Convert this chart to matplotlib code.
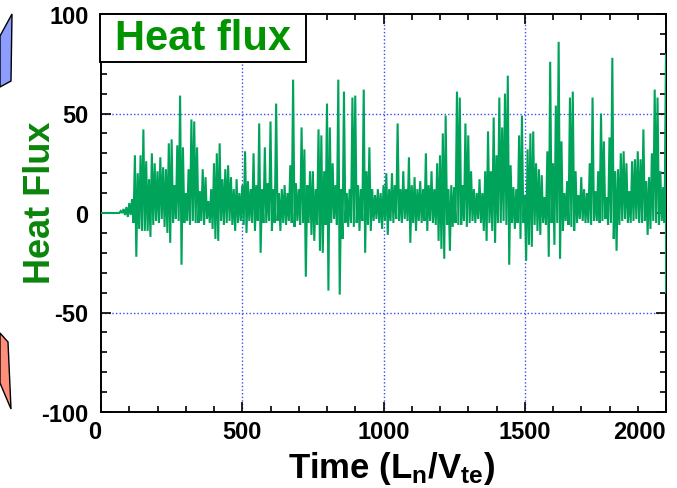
import matplotlib
matplotlib.use("Agg")
import matplotlib.pyplot as plt
from matplotlib.ticker import MultipleLocator
from matplotlib.patches import Rectangle, Polygon
import numpy as np

plt.rcParams['font.family'] = ['Liberation Sans', 'DejaVu Sans']
plt.rcParams['font.weight'] = 'bold'
plt.rcParams['mathtext.fontset'] = 'custom'
plt.rcParams['mathtext.rm'] = 'Liberation Sans:bold'
plt.rcParams['mathtext.it'] = 'Liberation Sans:bold'
plt.rcParams['mathtext.bf'] = 'Liberation Sans:bold'

# ---- data: time every 10 L_n/V_te ----
time = list(range(0, 2001, 10))
flux_high = [
    0, 0, 0, 0, 0, 0, 0, 1, 2, 3,
    5, 7, 29, 20, 29, 42, 26, 17, 30, 25,
    21, 28, 23, 22, 35, 37, 14, 34, 59, 33,
    10, 22, 47, 46, 33, 11, 22, 18, 6, 12,
    25, 30, 35, 17, 22, 24, 18, 12, 17, 10,
    14, 31, 16, 12, 30, 14, 45, 12, 33, 15,
    46, 12, 55, 10, 12, 14, 10, 24, 67, 15,
    12, 43, 32, 14, 21, 21, 12, 42, 39, 21,
    55, 43, 25, 14, 67, 12, 61, 10, 12, 58,
    59, 14, 12, 62, 21, 33, 12, 9, 12, 10,
    14, 20, 12, 20, 14, 45, 12, 21, 12, 28,
    14, 18, 12, 16, 12, 30, 14, 21, 12, 25,
    29, 40, 49, 12, 14, 13, 61, 58, 14, 45,
    39, 21, 12, 10, 17, 10, 21, 41, 21, 48,
    29, 58, 43, 60, 69, 24, 13, 12, 39, 49,
    9, 32, 40, 41, 25, 22, 19, 8, 31, 76,
    25, 54, 86, 36, 10, 16, 58, 61, 21, 9,
    18, 12, 10, 25, 58, 11, 21, 50, 36, 8,
    38, 78, 21, 22, 30, 31, 25, 11, 26, 27,
    31, 27, 42, 16, 18, 30, 62, 58, 21, 13,
    80]
flux_low = [
    0, 0, 0, 0, 0, 0, 0, 0, -1, -2,
    -1, -5, -22, -8, -9, -9, -9, -12, -6, -4,
    -5, -3, -7, -10, -15, -5, -3, -4, -26, -5,
    -4, -6, -4, -5, -5, -4, -6, -3, -5, -8,
    -13, -14, -4, -6, -5, -4, -6, -9, -5, -4,
    -6, -10, -4, -5, -9, -4, -20, -5, -5, -4,
    -9, -5, -4, -9, -5, -6, -4, -5, -7, -4,
    -6, -5, -32, -5, -11, -14, -6, -19, -20, -6,
    -39, -5, -3, -6, -41, -13, -5, -7, -5, -7,
    -5, -9, -4, -20, -6, -9, -4, -3, -5, -8,
    -4, -11, -4, -5, -3, -4, -5, -3, -4, -15,
    -5, -9, -4, -5, -4, -9, -4, -5, -6, -14,
    -18, -23, -6, -19, -7, -5, -6, -6, -4, -7,
    -5, -4, -5, -3, -5, -9, -14, -5, -9, -15,
    -5, -5, -4, -6, -26, -5, -8, -5, -13, -5,
    -24, -16, -17, -6, -9, -11, -5, -6, -22, -5,
    -16, -5, -23, -9, -4, -6, -7, -9, -5, -3,
    -4, -5, -5, -6, -4, -4, -5, -4, -3, -6,
    -5, -13, -19, -6, -4, -3, -5, -5, -4, -3,
    -5, -5, -4, -11, -8, -4, -5, -6, -4, -5,
    -40]
xtick_values = [0, 500, 1000, 1500, 2000]
xtick_labels = ['0', '500', '1000', '1500', '2000']
ytick_values = [-100, -50, 0, 50, 100]
ytick_labels = ['-100', '-50', '0', '50', '100']

# zig-zag series: high value at t, low value half a step later
t = np.array(time, dtype=float)
tt = np.empty(2 * len(t))
yy = np.empty(2 * len(t))
tt[0::2] = t
tt[1::2] = t + 5
yy[0::2] = flux_high
yy[1::2] = flux_low
tt = np.clip(tt, 0, 2000)

W, H = 677, 489
fig = plt.figure(figsize=(W / 100, H / 100), dpi=100)
ax = fig.add_axes([101 / W, 1 - 413 / H, (666 - 101) / W, (413 - 15) / H])

ax.plot(tt, yy, color='#00a35a', lw=1.5, zorder=3, solid_joinstyle='miter')

ax.set_xlim(0, 2000)
ax.set_ylim(-100, 100)

grid_kw = dict(color='#3a4cf0', lw=1.0, ls=(0, (1, 1.6)), zorder=1)
for gx in [500, 1000, 1500]:
    ax.axvline(gx, **grid_kw)
for gy in [-50, 50]:
    ax.axhline(gy, **grid_kw)

ax.set_xticks(xtick_values)
ax.set_xticklabels(xtick_labels)
ax.set_yticks(ytick_values)
ax.set_yticklabels(ytick_labels)
ax.xaxis.set_minor_locator(MultipleLocator(100))
ax.yaxis.set_minor_locator(MultipleLocator(10))
ax.tick_params(which='both', direction='in', top=True, right=True,
               width=1.2, labelsize=17, colors='black')
ax.tick_params(which='major', length=7)
ax.tick_params(which='minor', length=4.5)
ax.tick_params(axis='x', which='major', pad=6)
ax.tick_params(axis='y', which='major', pad=9)
xl = ax.get_xticklabels()
xl[0].set_ha('right')
xl[-1].set_ha('right')
for s in ax.spines.values():
    s.set_linewidth(1.4)

ax.set_xlabel('Time (L$_{\\mathrm{n}}$/V$_{\\mathrm{te}}$)', fontsize=25,
              fontweight='bold', va='baseline')
ax.xaxis.set_label_coords(0.515, (413 - 478) / 398)
ax.set_ylabel('Heat Flux', fontsize=26, fontweight='bold', color='#0b850b',
              va='center')
ax.yaxis.set_label_coords((40 - 101) / 565, (413 - 203) / 398)

# title box
fig.patches.append(Rectangle((100 / W, 1 - 63 / H), 206 / W, 48 / H,
                             transform=fig.transFigure, facecolor='white',
                             edgecolor='black', lw=1.4, zorder=5))
fig.text(203 / W, 1 - 39 / H, 'Heat flux', fontsize=30, fontweight='bold',
         color='#009400', ha='center', va='center', zorder=6)

# partial arrow shapes at the left edge
def px(pts):
    return [(x / W, 1 - y / H) for x, y in pts]

fig.patches.append(Polygon(px([(0, 37), (12, 15), (11, 82), (0, 88)]),
                           closed=True, transform=fig.transFigure,
                           facecolor='#8c9cff', edgecolor='black', lw=1.0))
fig.patches.append(Polygon(px([(0, 334), (8, 343), (11, 410), (0, 384)]),
                           closed=True, transform=fig.transFigure,
                           facecolor='#ff8f7a', edgecolor='black', lw=1.0))

fig.savefig('out.png', dpi=100)
